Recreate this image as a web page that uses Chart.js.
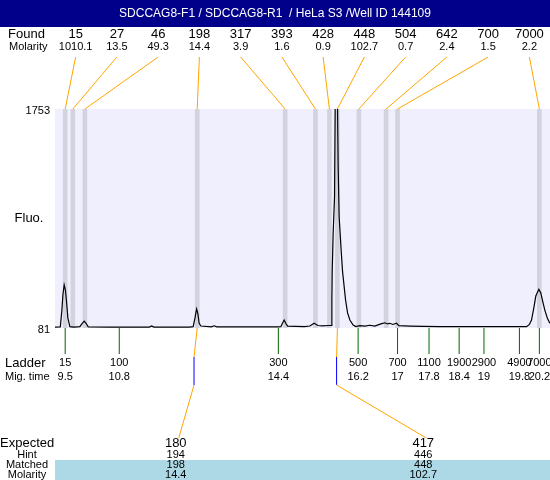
<!DOCTYPE html>
<html>
<head>
<meta charset="utf-8">
<script src="https://cdn.jsdelivr.net/npm/chart.js@4/dist/chart.umd.min.js"></script>
<style>
  html, body { margin: 0; padding: 0; background: #ffffff; }
  #wrap { width: 550px; height: 480px; position: relative; }
  canvas { display: block; }
</style>
</head>
<body>
<div id="wrap"><canvas id="c" width="550" height="480" style="width:550px;height:480px"></canvas></div>
<script>
// ---------------- data ----------------
const title = 'SDCCAG8-F1 / SDCCAG8-R1  / HeLa S3 /Well ID 144109';

const foundSizes    = [15, 27, 46, 198, 317, 393, 428, 448, 504, 642, 700, 7000];
const foundMolarity = ['1010.1', '13.5', '49.3', '14.4', '3.9', '1.6', '0.9', '102.7', '0.7', '2.4', '1.5', '2.2'];

const ladderSizes      = [15, 100, 300, 500, 700, 1100, 1900, 2900, 4900, 7000];
const ladderTimes      = [9.50, 10.72, 14.31, 16.11, 17.00, 17.71, 18.39, 18.95, 19.75, 20.20];
const ladderTimeLabels = ['9.5', '10.8', '14.4', '16.2', '17', '17.8', '18.4', '19', '19.8', '20.2'];

const expectedSizes   = [180, 417];
const hintSizes       = [194, 446];
const matchedSizes    = [198, 448];
const matchedMolarity = ['14.4', '102.7'];

const fluoTicks = [81, 1753];
const timeRange = [9.27, 20.44];

const traceTime = [
  9.27, 9.39, 9.426, 9.448, 9.477, 9.505, 9.527, 9.561, 9.606, 9.70,
  9.832, 9.88, 9.929, 9.975, 10.019, 10.5, 11.40, 11.449, 11.50, 12.30,
  12.388, 12.43, 12.465, 12.494, 12.523, 12.562, 12.80, 12.862, 12.92, 14.30,
  14.367, 14.40, 14.441, 14.48, 14.518, 14.9, 15.021, 15.118, 15.201, 15.3,
  15.45, 15.50, 15.518, 15.525, 15.547, 15.578, 15.592, 15.62, 15.646, 15.660,
  15.682, 15.727, 15.759, 15.827, 15.872, 15.924, 15.998, 16.059, 16.149, 16.262,
  16.374, 16.487, 16.623, 16.713, 16.781, 16.826, 16.894, 16.977, 17.029, 17.277,
  17.571, 17.954, 18.857, 19.911, 19.974, 20.023, 20.075, 20.12, 20.188, 20.233,
  20.278, 20.323, 20.379, 20.436
];
const traceFluo = [
  88, 90, 218, 333, 411, 371, 295, 157, 91, 88,
  91, 115, 134, 115, 90, 88, 88, 97, 88, 88,
  91, 160, 226, 190, 117, 96, 90, 98, 90, 90,
  91, 115, 142, 115, 96, 92, 96, 117, 100, 97,
  100, 100, 300, 511, 806, 1083, 1753, 2300, 1753, 1313,
  931, 677, 511, 295, 196, 142, 104, 92, 99, 96,
  102, 96, 112, 121, 112, 117, 108, 117, 99, 96,
  94, 91, 91, 91, 108, 142, 234, 325, 376, 348,
  280, 218, 157, 117
];

// ---------------- helpers ----------------
const FONT = '"Liberation Sans", Arial, sans-serif';
function sizeToTime(s) {
  for (let i = 0; i < ladderSizes.length - 1; i++) {
    const a = ladderSizes[i], b = ladderSizes[i + 1];
    if (s >= a && s <= b) {
      return ladderTimes[i] + (s - a) / (b - a) * (ladderTimes[i + 1] - ladderTimes[i]);
    }
  }
  return s < ladderSizes[0] ? ladderTimes[0] : ladderTimes[ladderTimes.length - 1];
}
function line(ctx, x1, y1, x2, y2, color, w) {
  ctx.save();
  ctx.strokeStyle = color; ctx.lineWidth = w || 1;
  ctx.beginPath(); ctx.moveTo(x1, y1); ctx.lineTo(x2, y2); ctx.stroke();
  ctx.restore();
}
function text(ctx, str, x, y, size, align, color) {
  ctx.save();
  ctx.font = size + 'px ' + FONT;
  ctx.fillStyle = color || '#000';
  ctx.textAlign = align || 'center';
  ctx.textBaseline = 'middle';
  ctx.fillText(str, x, y);
  ctx.restore();
}

const points = traceTime.map((t, i) => ({ x: t, y: traceFluo[i] }));

const backdrop = {
  id: 'backdrop',
  beforeDatasetsDraw(chart) {
    const { ctx, chartArea: a, scales: { x } } = chart;
    ctx.save();
    ctx.fillStyle = '#efeffd';
    ctx.fillRect(a.left, a.top, a.right - a.left, a.bottom - a.top);
    ctx.fillStyle = '#d3d3df';
    foundSizes.forEach(s => {
      const px = x.getPixelForValue(sizeToTime(s));
      ctx.fillRect(px - 2.3, a.top, 4.6, a.bottom - a.top);
    });
    ctx.restore();
  }
};

const annotations = {
  id: 'annotations',
  beforeDraw(chart) {
    const { ctx } = chart;
    ctx.save();
    ctx.fillStyle = '#ffffff';
    ctx.fillRect(0, 0, chart.width, chart.height);
    ctx.restore();
  },
  afterDraw(chart) {
    const { ctx, chartArea: a, scales: { x, y } } = chart;
    const W = chart.width;

    // title bar
    ctx.save();
    ctx.fillStyle = '#00008b';
    ctx.fillRect(0, 0, W, 27);
    ctx.restore();
    text(ctx, title, W / 2, 14, 12, 'center', '#ffffff');

    // found row
    text(ctx, 'Found', 8, 34.5, 13, 'left');
    text(ctx, 'Molarity', 9, 46.5, 11, 'left');
    const nF = foundSizes.length;
    const colW = (a.right - a.left) / nF;
    foundSizes.forEach((s, i) => {
      const cx = a.left + colW * (i + 0.5);
      text(ctx, String(s), cx, 34.5, 13, 'center');
      text(ctx, foundMolarity[i], cx, 46.5, 11, 'center');
      const bx = x.getPixelForValue(sizeToTime(s));
      line(ctx, cx, 57, bx, a.top, '#ffa500', 1);
    });

    // y labels
    text(ctx, String(fluoTicks[1]), 50, y.getPixelForValue(fluoTicks[1]) + 2, 11, 'right');
    text(ctx, String(fluoTicks[0]), 50, y.getPixelForValue(fluoTicks[0]) + 2, 11, 'right');
    text(ctx, 'Fluo.', 29, 218, 13, 'center');

    // ladder
    text(ctx, 'Ladder', 5, 363, 13, 'left');
    text(ctx, 'Mig. time', 5, 377, 11, 'left');
    ladderSizes.forEach((s, i) => {
      const px = x.getPixelForValue(ladderTimes[i]);
      line(ctx, px, a.bottom, px, 354, '#006400', 1);
      text(ctx, String(s), px, 363, 11, 'center');
      text(ctx, ladderTimeLabels[i], px, 377, 11, 'center');
    });

    // expected / matched table
    const nE = expectedSizes.length;
    const eW = (a.right - a.left) / nE;
    ctx.save();
    ctx.fillStyle = '#add8e6';
    ctx.fillRect(a.left, 460, a.right - a.left, 20);
    ctx.restore();
    text(ctx, 'Expected', 0, 443.5, 13, 'left');
    text(ctx, 'Hint', 27, 455, 11, 'center');
    text(ctx, 'Matched', 27, 465, 11, 'center');
    text(ctx, 'Molarity', 27, 474.5, 11, 'center');
    expectedSizes.forEach((s, i) => {
      const cx = a.left + eW * (i + 0.5);
      const mx = x.getPixelForValue(sizeToTime(matchedSizes[i]));
      const hx = x.getPixelForValue(sizeToTime(hintSizes[i]));
      line(ctx, mx, a.bottom, hx, 357, '#ffa500', 1);
      line(ctx, hx, 357, hx, 385, '#0000ff', 1);
      line(ctx, hx, 385, cx, 438, '#ffa500', 1);
      text(ctx, String(s), cx - 3, 443.5, 13, 'center');
      text(ctx, String(hintSizes[i]), cx - 3, 455, 11, 'center');
      text(ctx, String(matchedSizes[i]), cx - 3, 465, 11, 'center');
      text(ctx, matchedMolarity[i], cx - 3, 474.5, 11, 'center');
    });
  }
};

new Chart(document.getElementById('c'), {
  type: 'line',
  data: {
    datasets: [{
      data: points,
      borderColor: '#000000',
      borderWidth: 1.2,
      pointRadius: 0,
      tension: 0,
      fill: false
    }]
  },
  options: {
    responsive: false,
    animation: false,
    layout: { padding: { left: 55, right: 0, top: 109, bottom: 152 } },
    scales: {
      x: { type: 'linear', min: timeRange[0], max: timeRange[1], display: false },
      y: { type: 'linear', min: fluoTicks[0], max: fluoTicks[1], display: false }
    },
    plugins: { legend: { display: false }, tooltip: { enabled: false } }
  },
  plugins: [backdrop, annotations]
});
</script>
</body>
</html>
